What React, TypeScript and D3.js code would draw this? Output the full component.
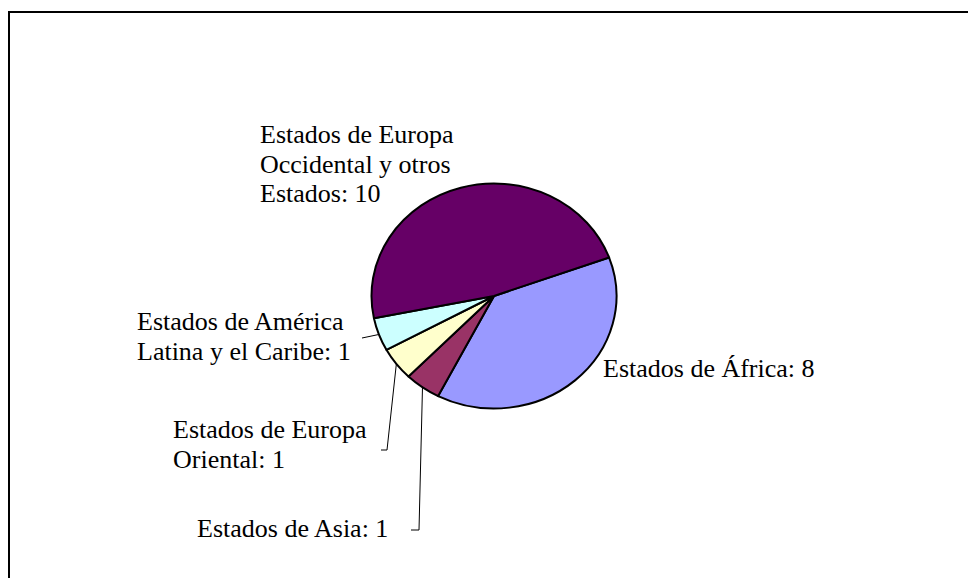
import React from "react";
import { pie, arc } from "d3";

// data, in the order the slices run clockwise from the Africa/Europe boundary
const regions = [
  "Estados de África",
  "Estados de Asia",
  "Estados de Europa Oriental",
  "Estados de América Latina y el Caribe",
  "Estados de Europa Occidental y otros Estados",
];
const counts = [8, 1, 1, 1, 10];
const colors = ["#9999FF", "#993366", "#FFFFCC", "#CCFFFF", "#660066"];

// label text broken into lines (the count goes after the last line)
const labelLines = [
  ["Estados de África"],
  ["Estados de Asia"],
  ["Estados de Europa", "Oriental"],
  ["Estados de América", "Latina y el Caribe"],
  ["Estados de Europa", "Occidental y otros", "Estados"],
];

// layout
const cx = 494;
const cy = 296;
const ry = 112.5;
const rx = 122.5;
const startDeg = 70;
const lineH = 29.5;
const fontSize = 26;
const labelPos = [
  { x: 603, y: 377 },
  { x: 197, y: 537 },
  { x: 173, y: 438 },
  { x: 137, y: 330 },
  { x: 260, y: 143 },
];
// leader line bends (null = no leader)
const leaders: ([number, number][] | null)[] = [
  null,
  [[419, 530], [411, 530]],
  [[387, 450], [381, 450]],
  [[362, 338]],
  null,
];

const App = () => {
  const start = (startDeg * Math.PI) / 180;
  const slices = pie<number>()
    .sort(null)
    .startAngle(start)
    .endAngle(start + 2 * Math.PI)(counts);
  const arcGen = arc<any>().innerRadius(0).outerRadius(ry);
  const sx = rx / ry;

  // point on the ellipse edge at a slice's mid angle
  const edge = (d: any): [number, number] => {
    const a = (d.startAngle + d.endAngle) / 2;
    return [cx + rx * Math.sin(a), cy - ry * Math.cos(a)];
  };

  return (
    <svg
      width={968}
      height={578}
      style={{ position: "absolute", left: 0, top: 0, background: "#fff" }}
      fontFamily="'Liberation Serif', 'Times New Roman', serif"
    >
      <rect x={9} y={12} width={1000} height={600} fill="#fff" stroke="#000" strokeWidth={2} />
      <g transform={`translate(${cx},${cy}) scale(${sx},1)`}>
        {slices.map((d, i) => (
          <path
            key={regions[i]}
            d={arcGen(d) as string}
            fill={colors[i]}
            stroke="#000"
            strokeWidth={2}
            vectorEffect="non-scaling-stroke"
            strokeLinejoin="round"
          />
        ))}
      </g>
      {slices.map((d, i) => {
        const pts = leaders[i];
        if (!pts) return null;
        const all = [edge(d), ...pts];
        return (
          <polyline
            key={"l" + i}
            points={all.map((p) => p.join(",")).join(" ")}
            fill="none"
            stroke="#000"
            strokeWidth={1}
          />
        );
      })}
      {labelLines.map((lines, i) => (
        <text key={"t" + i} x={labelPos[i].x} y={labelPos[i].y} fontSize={fontSize} fill="#000">
          {lines.map((ln, j) => (
            <tspan key={j} x={labelPos[i].x} y={labelPos[i].y + j * lineH}>
              {j === lines.length - 1 ? `${ln}: ${counts[i]}` : ln}
            </tspan>
          ))}
        </text>
      ))}
    </svg>
  );
};

export default App;
